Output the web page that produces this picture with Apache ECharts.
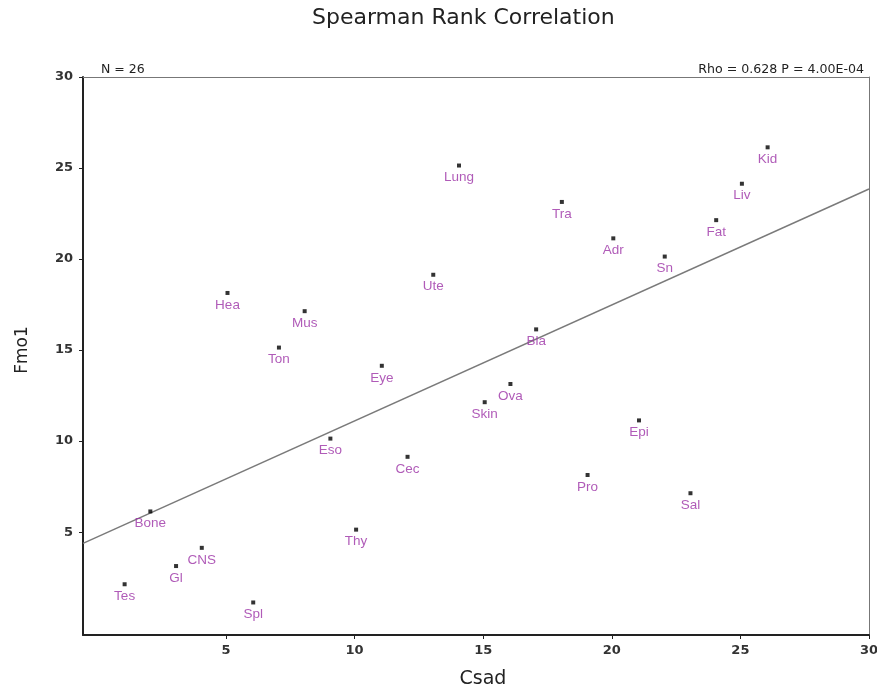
<!DOCTYPE html>
<html>
<head>
<meta charset="utf-8">
<script src="https://cdn.jsdelivr.net/npm/echarts@6/dist/echarts.min.js"></script>
<style>
  html, body { margin: 0; padding: 0; background: #fff; }
  #chart { width: 877px; height: 689px; }
</style>
</head>
<body>
<div id="chart"></div>
<script>
// tissue labels and their ranks
var tissues = ['Tes', 'Bone', 'Gl', 'CNS', 'Hea', 'Spl', 'Ton', 'Mus', 'Eso', 'Thy', 'Eye', 'Cec', 'Ute',
    'Lung', 'Skin', 'Ova', 'Bla', 'Tra', 'Pro', 'Adr', 'Epi', 'Sn', 'Sal', 'Fat', 'Liv', 'Kid'];
var csadRank = [1, 2, 3, 4, 5, 6, 7, 8, 9, 10, 11, 12, 13, 14, 15, 16, 17, 18, 19, 20, 21, 22, 23, 24, 25, 26];
var fmo1Rank = [2, 6, 3, 4, 18, 1, 15, 17, 10, 5, 14, 9, 19, 25, 12, 13, 16, 23, 8, 21, 11, 20, 7, 22, 24, 26];
var fitX = [-0.56, 30];
var fitY = [4.38, 23.85];
var tickValues = [5, 10, 15, 20, 25, 30];

var chart = echarts.init(document.getElementById('chart'));

var points = tissues.map(function (t, i) {
    return { name: t, value: [csadRank[i], fmo1Rank[i]] };
});

var tickLabel = {
    color: '#333',
    fontFamily: 'DejaVu Sans',
    fontWeight: 'bold',
    fontSize: 13
};

var option = {
    animation: false,
    title: [
        {
            text: 'Spearman Rank Correlation',
            left: 307,
            top: 2,
            textStyle: { fontFamily: 'DejaVu Sans', fontWeight: 'normal', fontSize: 22, color: '#222' }
        },
        {
            text: 'N = 26',
            left: 96,
            top: 58,
            textStyle: { fontFamily: 'DejaVu Sans', fontWeight: 'normal', fontSize: 12.5, color: '#222' }
        },
        {
            text: 'Rho = 0.628 P = 4.00E-04',
            right: 8,
            top: 58,
            textStyle: { fontFamily: 'DejaVu Sans', fontWeight: 'normal', fontSize: 12.6, color: '#222' }
        }
    ],
    grid: { left: 83, right: 8, top: 77, bottom: 54, outerBoundsMode: 'none' },
    xAxis: [{
        type: 'value',
        min: -0.56,
        max: 30,
        name: 'Csad',
        nameLocation: 'middle',
        nameGap: 35,
        nameTextStyle: { fontFamily: 'DejaVu Sans', fontSize: 19, color: '#222', padding: [0, 0, 0, 14] },
        axisLine: { show: true, onZero: false, lineStyle: { color: '#222', width: 2 } },
        axisTick: { show: true, customValues: tickValues, length: 4, lineStyle: { color: '#222' } },
        axisLabel: Object.assign({ customValues: tickValues, margin: 9 }, tickLabel),
        splitLine: { show: false }
    }, {
        type: 'value',
        position: 'top',
        min: -0.56,
        max: 30,
        axisLine: { show: true, onZero: false, lineStyle: { color: '#777', width: 1 } },
        axisTick: { show: false },
        axisLabel: { show: false },
        splitLine: { show: false }
    }],
    yAxis: [{
        type: 'value',
        min: -0.65,
        max: 30,
        name: 'Fmo1',
        nameLocation: 'middle',
        nameGap: 52,
        nameTextStyle: { fontFamily: 'DejaVu Sans', fontSize: 17, color: '#222', padding: [0, 0, 0, 12] },
        axisLine: { show: true, onZero: false, lineStyle: { color: '#222', width: 2 } },
        axisTick: { show: true, customValues: tickValues, length: 4, lineStyle: { color: '#222' } },
        axisLabel: Object.assign({ customValues: tickValues, margin: 10 }, tickLabel),
        splitLine: { show: false }
    }, {
        type: 'value',
        position: 'right',
        min: -0.65,
        max: 30,
        axisLine: { show: true, onZero: false, lineStyle: { color: '#777', width: 1 } },
        axisTick: { show: false },
        axisLabel: { show: false },
        splitLine: { show: false }
    }],
    series: [
        {
            type: 'line',
            data: fitX.map(function (x, i) { return [x, fitY[i]]; }),
            symbol: 'none',
            lineStyle: { color: '#7a7a7a', width: 1.5 },
            z: 1
        },
        {
            type: 'scatter',
            data: points,
            symbol: 'rect',
            symbolSize: 4,
            symbolOffset: [1.5, -2.5],
            itemStyle: { color: '#000' },
            label: {
                show: true,
                position: 'bottom',
                distance: 3,
                formatter: '{b}',
                color: '#9c32a6',
                fontFamily: 'Liberation Sans',
                fontSize: 13.5
            },
            z: 3
        }
    ]
};

chart.setOption(option);
</script>
</body>
</html>
